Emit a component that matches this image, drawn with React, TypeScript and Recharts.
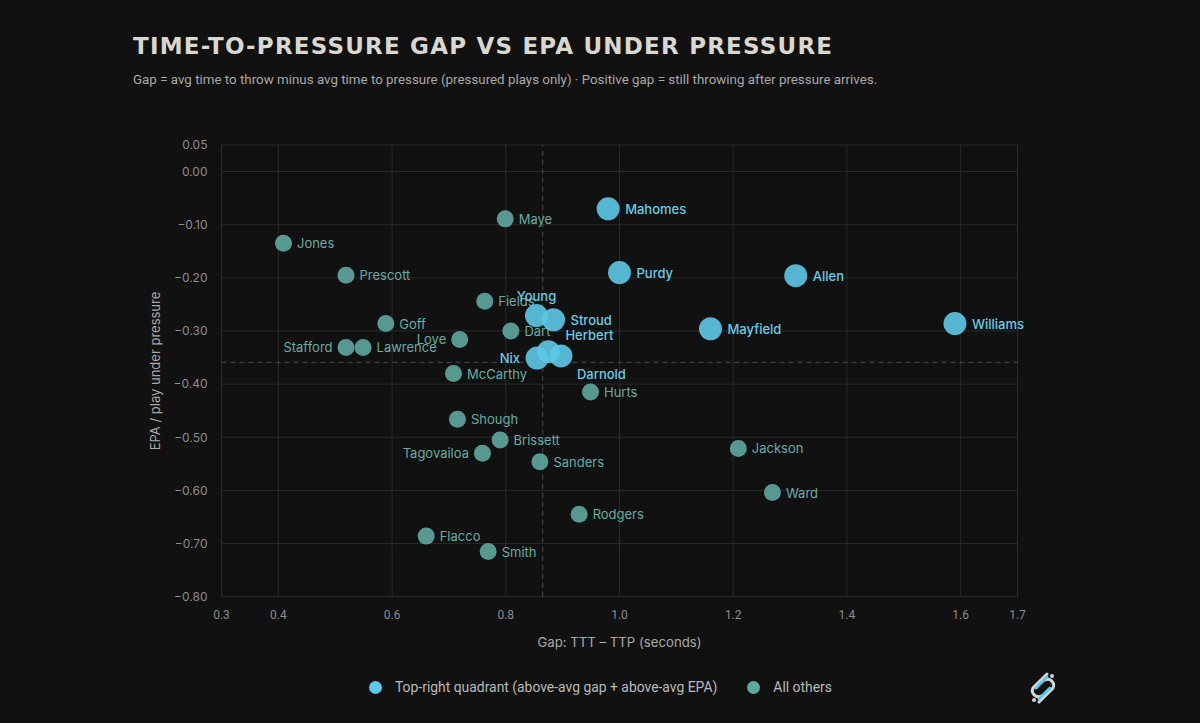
import React from "react";
import {
  ScatterChart,
  Scatter,
  XAxis,
  YAxis,
  CartesianGrid,
  ReferenceLine,
} from "recharts";

// values
const TOP_NAMES = ["Mahomes", "Purdy", "Allen", "Mayfield", "Williams", "Young", "Stroud", "Nix", "Herbert", "Darnold"];
const TOP_GAP = [0.98, 1.0, 1.31, 1.16, 1.59, 0.854, 0.884, 0.855, 0.875, 0.897];
const TOP_EPA = [-0.07, -0.19, -0.196, -0.296, -0.286, -0.271, -0.279, -0.351, -0.339, -0.347];

const OTHER_NAMES = [
  "Maye", "Jones", "Prescott", "Fields", "Dart", "Goff", "Love", "Stafford", "Lawrence", "McCarthy",
  "Hurts", "Shough", "Brissett", "Tagovailoa", "Sanders", "Rodgers", "Flacco", "Smith", "Jackson", "Ward",
];
const OTHER_GAP = [0.799, 0.409, 0.519, 0.763, 0.809, 0.589, 0.719, 0.519, 0.549, 0.708, 0.949, 0.715, 0.79, 0.759, 0.86, 0.929, 0.66, 0.769, 1.209, 1.269];
const OTHER_EPA = [-0.089, -0.135, -0.195, -0.244, -0.3, -0.286, -0.316, -0.331, -0.331, -0.38, -0.415, -0.466, -0.505, -0.53, -0.546, -0.645, -0.686, -0.715, -0.521, -0.604];

const MEAN_GAP = 0.865;
const MEAN_EPA = -0.359;

const X_TICKS = [0.3, 0.4, 0.6, 0.8, 1.0, 1.2, 1.4, 1.6, 1.7];
const Y_TICKS = [0.05, 0, -0.1, -0.2, -0.3, -0.4, -0.5, -0.6, -0.7, -0.8];

const TOP_LABEL = "Top-right quadrant (above-avg gap + above-avg EPA)";
const OTHER_LABEL = "All others";

// where a name sits next to its dot (default: right)
const LABEL_SIDE: Record<string, string> = {
  Young: "top",
  Herbert: "topRight",
  Darnold: "bottomRight",
  Nix: "left",
  Stafford: "left",
  Love: "left",
  Tagovailoa: "left",
};

const BG = "#111111";
const CYAN = "#5ec8e6";
const TEAL = "#5fa8a0";

const topData = TOP_NAMES.map((name, i) => ({ name, gap: TOP_GAP[i], epa: TOP_EPA[i] }));
const otherData = OTHER_NAMES.map((name, i) => ({ name, gap: OTHER_GAP[i], epa: OTHER_EPA[i] }));

const fmtY = (v: number) => v.toFixed(2).replace("-", "\u2212");
const fmtX = (v: number) => v.toFixed(1);

function makeDot(r: number, fill: string, textFill: string, weight: number, gapPx: number) {
  return (props: any) => {
    const { cx, cy, payload } = props;
    const side = LABEL_SIDE[payload.name] || "right";
    let tx = cx + gapPx;
    let ty = cy;
    let anchor: "start" | "end" | "middle" = "start";
    if (side === "left") {
      tx = cx - gapPx;
      anchor = "end";
    } else if (side === "top") {
      tx = cx;
      ty = cy - 20;
      anchor = "middle";
    } else if (side === "topRight") {
      ty = cy - 17;
    } else if (side === "bottomRight") {
      tx = cx + gapPx - 1;
      ty = cy + 18;
    }
    return (
      <g>
        <circle cx={cx} cy={cy} r={r} fill={fill} fillOpacity={0.9} />
        <text
          x={tx}
          y={ty}
          textAnchor={anchor}
          dominantBaseline="central"
          fill={textFill}
          fontSize={13}
          fontWeight={weight}
          fontFamily="Inter, sans-serif"
        >
          {payload.name}
        </text>
      </g>
    );
  };
}

function Logo() {
  return (
    <svg width={44} height={44} viewBox="0 0 44 44" style={{ position: "absolute", left: 1021, top: 666 }}>
      <path d="M26 8 L12 22 A6 6 0 0 0 20 30" stroke="#d6d6d6" strokeWidth={3} fill="none" strokeLinecap="round" />
      <path d="M18 36 L32 22 A6 6 0 0 0 24 14" stroke="#d6d6d6" strokeWidth={3} fill="none" strokeLinecap="round" />
      <line x1={15} y1={22} x2={26} y2={11} stroke={CYAN} strokeWidth={3} strokeLinecap="round" />
      <line x1={18} y1={33} x2={29} y2={22} stroke={CYAN} strokeWidth={3} strokeLinecap="round" />
      <circle cx={31} cy={10} r={2} fill="#d6d6d6" />
      <circle cx={13} cy={34} r={2} fill="#d6d6d6" />
    </svg>
  );
}

export default function App() {
  return (
    <div style={{ position: "fixed", left: 0, top: 0, width: 1200, height: 723, background: BG, overflow: "hidden" }}>
      <div
        style={{
          position: "absolute",
          left: 133,
          top: 33,
          fontFamily: "'DejaVu Sans', sans-serif",
          fontWeight: 700,
          fontSize: 23,
          letterSpacing: 1.2,
          color: "#d9d7cf",
          whiteSpace: "nowrap",
        }}
      >
        TIME-TO-PRESSURE GAP VS EPA UNDER PRESSURE
      </div>
      <div
        style={{
          position: "absolute",
          left: 133,
          top: 72,
          fontFamily: "Roboto, sans-serif",
          fontSize: 13.35,
          color: "#a8a8a8",
          whiteSpace: "nowrap",
        }}
      >
        Gap = avg time to throw minus avg time to pressure (pressured plays only) · Positive gap = still throwing after pressure arrives.
      </div>

      <div style={{ position: "absolute", left: 0, top: 0 }}>
        <ScatterChart width={1200} height={723} margin={{ top: 145, right: 182.5, bottom: 96.3, left: 161.5 }}>
          <CartesianGrid stroke="#2a2a2a" strokeWidth={1} />
          <XAxis
            type="number"
            dataKey="gap"
            domain={[0.3, 1.7]}
            ticks={X_TICKS}
            tickFormatter={fmtX}
            axisLine={false}
            tickLine={false}
            tickSize={0}
            tickMargin={14}
            height={30}
            tick={{ fill: "#8c8c8c", fontSize: 12, fontFamily: "Roboto, sans-serif" }}
          />
          <YAxis
            type="number"
            dataKey="epa"
            domain={[-0.8, 0.05]}
            ticks={Y_TICKS}
            tickFormatter={fmtY}
            axisLine={false}
            tickLine={false}
            tickSize={0}
            tickMargin={14}
            width={60}
            tick={{ fill: "#8c8c8c", fontSize: 12, fontFamily: "Inter, sans-serif" }}
          />
          <ReferenceLine x={MEAN_GAP} stroke="#4a4a4a" strokeDasharray="5 4" />
          <ReferenceLine y={MEAN_EPA} stroke="#4a4a4a" strokeDasharray="5 4" />
          <Scatter
            name={OTHER_LABEL}
            data={otherData}
            isAnimationActive={false}
            shape={makeDot(8.5, TEAL, "#6aaca4", 400, 13.5)}
          />
          <Scatter
            name={TOP_LABEL}
            data={topData}
            isAnimationActive={false}
            shape={makeDot(11.5, CYAN, "#6ccbe6", 500, 17)}
          />
        </ScatterChart>
      </div>

      <div
        style={{
          position: "absolute",
          left: 155,
          top: 371,
          transform: "translate(-50%, -50%) rotate(-90deg)",
          fontFamily: "Inter, sans-serif",
          fontSize: 13,
          color: "#a9a9a9",
          whiteSpace: "nowrap",
        }}
      >
        EPA / play under pressure
      </div>
      <div
        style={{
          position: "absolute",
          left: 619.5,
          top: 642,
          transform: "translate(-50%, -50%)",
          fontFamily: "Inter, sans-serif",
          fontSize: 13.2,
          color: "#a9a9a9",
          whiteSpace: "nowrap",
        }}
      >
        Gap: TTT – TTP (seconds)
      </div>

      <div
        style={{
          position: "absolute",
          left: 369,
          top: 677,
          display: "flex",
          alignItems: "center",
          fontFamily: "Roboto, sans-serif",
          fontSize: 13.9,
          color: "#b9b9b9",
          whiteSpace: "nowrap",
          height: 20,
        }}
      >
        <span style={{ width: 13, height: 13, borderRadius: "50%", background: CYAN, display: "inline-block", marginRight: 13 }} />
        <span>{TOP_LABEL}</span>
        <span style={{ width: 13, height: 13, borderRadius: "50%", background: TEAL, display: "inline-block", marginLeft: 30, marginRight: 13 }} />
        <span>{OTHER_LABEL}</span>
      </div>

      <Logo />
    </div>
  );
}
